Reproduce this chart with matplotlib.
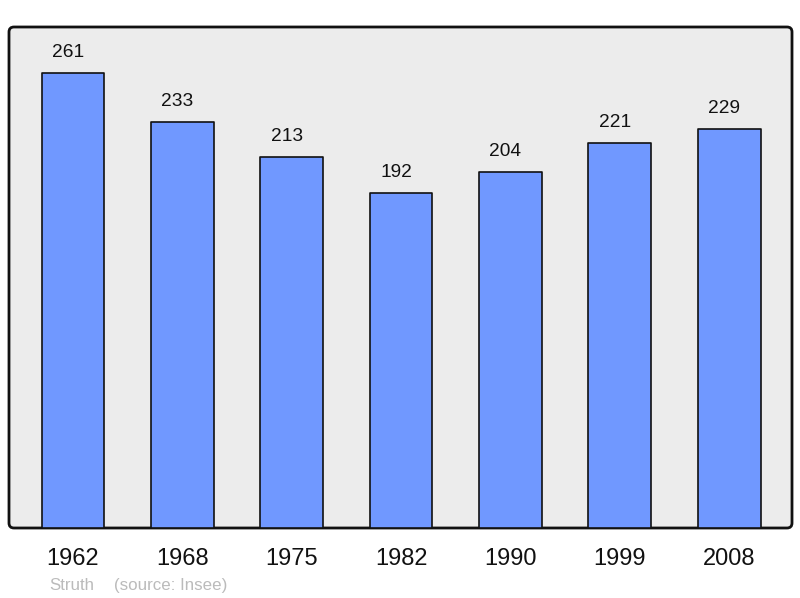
import matplotlib
matplotlib.use("Agg")
import matplotlib.pyplot as plt
import matplotlib.transforms as mtransforms
from matplotlib.patches import FancyBboxPatch

years = ["1962", "1968", "1975", "1982", "1990", "1999", "2008"]
population = [261, 233, 213, 192, 204, 221, 229]

plt.rcParams['font.family'] = ['Liberation Sans', 'DejaVu Sans']

fig = plt.figure(figsize=(8, 5.98), dpi=100)
ax = fig.add_axes([9/800, 1-528/598, (792-9)/800, (528-27)/598])
ax.set_facecolor('none')

# rounded background frame
frame = FancyBboxPatch((9/100, (598-528)/100), (792-9)/100, (528-27)/100,
                       boxstyle="round,pad=0,rounding_size=0.05",
                       transform=fig.dpi_scale_trans, facecolor='#ececec',
                       edgecolor='#111111', linewidth=2, zorder=0, clip_on=False)
ax.add_artist(frame)

x = list(range(len(years)))
bars = ax.bar(x, population, width=0.575, color='#7098ff', edgecolor='#111111',
              linewidth=1.2, zorder=2)
for b in bars:
    b.set_joinstyle('round')

ax.set_xlim(-0.585, 6.575)
ax.set_ylim(0, 287.4)
for s in ax.spines.values():
    s.set_visible(False)
ax.set_xticks([])
ax.set_yticks([])

for xi, v in zip(x, population):
    ax.annotate(str(v), (xi, v), xytext=(-3.6, 11.5), textcoords='offset points',
                ha='center', va='baseline', fontsize=13.8, color='#111111', zorder=3)

trans = mtransforms.offset_copy(ax.get_xaxis_transform(), fig=fig, x=0, y=-37, units='dots')
for xi, y in zip(x, years):
    ax.text(xi, 0, y, transform=trans, ha='center', va='baseline', fontsize=17,
            color='#111111', clip_on=False)

fig.text(49/800, 1-590/598, "Struth", fontsize=12.2, color='#bbbbbb', ha='left', va='baseline')
fig.text(114/800, 1-590/598, "(source: Insee)", fontsize=12.2, color='#bbbbbb', ha='left', va='baseline')

fig.savefig("out.png", dpi=100)
